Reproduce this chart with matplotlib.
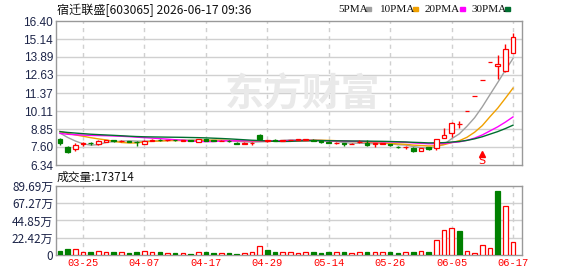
import numpy as np
import pandas as pd
import matplotlib
matplotlib.use('Agg')
import matplotlib.pyplot as plt
from matplotlib.patches import Rectangle

plt.rcParams['font.family'] = ['Noto Sans CJK SC', 'DejaVu Sans']

title = '宿迁联盛[603065] 2026-06-17 09:36'
vol_text = '成交量:173714'

# closes before the visible window, only used to feed the moving averages
earlier_close = [8.95, 9.05, 9.10, 9.00, 8.90, 8.85, 8.80, 8.90, 8.85, 8.70,
                 8.55, 8.40, 8.30, 8.35, 8.25, 8.30, 8.40, 8.45, 8.50, 8.65,
                 8.70, 8.75, 8.80, 8.85, 8.90, 8.80, 9.00, 8.85, 8.30]

open_ = [8.16, 7.62, 7.44, 7.80, 7.90, 7.78, 7.98, 8.10, 7.99, 8.03,
         7.97, 7.80, 8.04, 8.12, 8.07, 8.10, 8.05, 8.08, 7.97, 8.14,
         8.06, 8.02, 8.04, 7.90, 7.82, 7.87, 8.43, 8.00, 8.12, 8.05,
         8.08, 8.10, 8.10, 8.12, 8.01, 7.97, 7.86, 7.86, 7.80, 7.94,
         7.90, 7.84, 7.84, 7.81, 7.62, 7.58, 7.51, 7.35, 7.60, 7.51,
         8.21, 8.58, 9.19, 10.13, 11.14, 12.25, 13.55, 13.26, 12.91, 14.14]
high = [8.23, 7.69, 7.85, 7.92, 7.93, 8.08, 8.12, 8.12, 8.06, 8.05,
        7.99, 8.08, 8.14, 8.14, 8.12, 8.11, 8.09, 8.09, 8.16, 8.18,
        8.09, 8.07, 8.06, 7.93, 7.93, 7.93, 8.51, 8.12, 8.14, 8.10,
        8.12, 8.14, 8.18, 8.13, 8.05, 7.99, 7.94, 7.88, 7.85, 8.09,
        8.09, 7.86, 7.90, 7.83, 7.66, 7.66, 7.58, 7.55, 7.63, 8.14,
        8.95, 9.32, 9.43, 10.13, 11.14, 12.25, 13.55, 14.02, 14.79, 15.58]
low = [7.76, 7.16, 7.32, 7.70, 7.72, 7.74, 7.95, 7.96, 7.97, 7.93,
       7.67, 7.78, 8.02, 8.05, 8.05, 8.03, 8.03, 8.03, 7.95, 8.00,
       8.00, 8.00, 7.98, 7.82, 7.80, 7.76, 8.09, 7.98, 8.03, 8.03,
       8.06, 8.09, 8.08, 8.02, 7.90, 7.85, 7.84, 7.70, 7.78, 7.85,
       7.68, 7.62, 7.82, 7.70, 7.56, 7.48, 7.25, 7.30, 7.42, 7.39,
       8.20, 8.32, 8.90, 10.13, 11.14, 12.25, 13.55, 12.38, 12.84, 14.14]
close = [7.90, 7.27, 7.76, 7.87, 7.85, 8.04, 8.08, 8.02, 8.04, 7.96,
         7.94, 8.04, 8.12, 8.08, 8.10, 8.06, 8.08, 8.05, 8.14, 8.03,
         8.02, 8.05, 8.00, 7.84, 7.89, 7.91, 8.14, 8.09, 8.05, 8.09,
         8.11, 8.13, 8.15, 8.05, 7.93, 7.88, 7.90, 7.78, 7.83, 7.96,
         7.72, 7.85, 7.88, 7.73, 7.60, 7.61, 7.34, 7.51, 7.48, 8.14,
         8.44, 9.30, 9.21, 10.13, 11.14, 12.25, 13.55, 13.42, 14.42, 15.26]
# volume in 万
volume = [5.2, 7.8, 7.4, 3.5, 3.9, 4.8, 3.5, 3.9, 3.5, 2.6,
          3.9, 4.8, 3.5, 3.9, 2.6, 2.6, 2.6, 1.3, 3.9, 3.9,
          2.6, 2.6, 2.6, 1.3, 2.6, 3.9, 11.7, 6.5, 3.9, 3.9,
          3.5, 2.6, 3.9, 4.3, 3.0, 4.3, 3.9, 4.3, 3.0, 3.9,
          4.3, 3.9, 3.9, 4.3, 3.0, 3.9, 4.3, 5.6, 4.3, 19.5,
          32.5, 35.1, 31.2, 5.2, 2.6, 13.0, 9.1, 83.2, 63.7, 17.37]

tick_idx = [3, 11, 19, 27, 35, 43, 51, 59]
tick_dates = ['03-25', '04-07', '04-17', '04-29', '05-14', '05-26', '06-05', '06-17']
price_ticks = [6.34, 7.60, 8.85, 10.11, 11.37, 12.63, 13.89, 15.14, 16.40]
vol_ticks = [0, 22.42, 44.85, 67.27, 89.69]
ma_periods = [5, 10, 20, 30]
ma_colors = ['#a0a0a0', '#f0a000', '#ff00ff', '#006f30']
signal_idx = 55

RED = '#ff0000'
GREEN = '#008000'
GRID = '#d0d0d0'
LABEL = '#1c2448'

W, H = 578, 276
fig = plt.figure(figsize=(W / 100, H / 100), dpi=100)
ax = fig.add_axes([56 / W, 1 - 165 / H, 466 / W, 144 / H])
axv = fig.add_axes([56 / W, 1 - 255 / H, 466 / W, 69 / H])

n = len(close)
x = np.arange(n)
o = np.array(open_); c = np.array(close)
prev = np.array([earlier_close[-1]] + close[:-1])

# moving averages
allc = pd.Series(earlier_close + close)
for p, col in zip(ma_periods, ma_colors):
    ma = allc.rolling(p).mean().values[-n:]
    ax.plot(x, ma, color=col, lw=1, zorder=2)

# candles
for i in range(n):
    if c[i] > o[i]:
        up = True
    elif c[i] < o[i]:
        up = False
    else:
        up = c[i] >= prev[i]
    col = RED if up else GREEN
    ax.vlines(i, low[i], high[i], color=col, lw=1, zorder=3)
    hgt = max(abs(c[i] - o[i]), 0.01)
    ax.bar(i, hgt, bottom=min(o[i], c[i]), width=0.6,
           facecolor='white' if up else GREEN, edgecolor=col, lw=0.9, zorder=4)

# signal marker
ax.plot(signal_idx, 7.12, marker='^', color=RED, ms=4, zorder=5)
ax.text(signal_idx, 6.62, 'S', color=RED, fontsize=8, ha='center', va='center',
        family='DejaVu Sans', zorder=5)

# volume bars
for i in range(n):
    up = c[i] >= prev[i]
    col = RED if up else GREEN
    axv.bar(i, volume[i], width=0.6, facecolor='white' if up else GREEN,
            edgecolor=col, lw=0.9, zorder=3)

# watermark
fig.text(302 / W, 1 - 95 / H, '东方财富', fontsize=28, color='#e9e9e9',
         fontweight='bold', ha='center', va='center', style='italic', zorder=0)

for a in (ax, axv):
    a.set_xlim(-0.52, 60.17)
    a.set_xticks(tick_idx)
    for t in tick_idx:
        a.axvline(t, color=GRID, lw=1, ls=(0, (3, 3)), zorder=1)
    for s in a.spines.values():
        s.set_color('#999999')
        s.set_linewidth(1)
    a.tick_params(length=0, pad=2)
    a.set_facecolor('none')

ax.set_ylim(price_ticks[0], price_ticks[-1])
ax.set_yticks(price_ticks)
ax.set_yticklabels(['%.2f' % v for v in price_ticks], fontsize=8.5,
                   color=LABEL, family='Liberation Sans')
for v in price_ticks[1:-1]:
    ax.axhline(v, color=GRID, lw=1, zorder=1)
ax.set_xticklabels([])

axv.set_ylim(vol_ticks[0], vol_ticks[-1])
axv.set_yticks(vol_ticks)
axv.set_yticklabels(['0'] + ['%.2f万' % v for v in vol_ticks[1:]], fontsize=8.5,
                    color=LABEL)
for v in vol_ticks[1:-1]:
    axv.axhline(v, color=GRID, lw=1, zorder=1)
axv.set_xticklabels(tick_dates, fontsize=7.5, color=RED, family='Liberation Mono')

# header text and legend
fig.text(57 / W, 1 - 10 / H, title, fontsize=8.7, va='center', color='#111111')
legend_x = [338, 380, 425, 472]
square_x = [366, 413, 460, 505]
for lx, sx, p, col in zip(legend_x, square_x, ma_periods, ma_colors):
    fig.text(lx / W, 1 - 10 / H, '%dPMA' % p, fontsize=8, va='center',
             family='Liberation Serif', color='#111111')
    fig.patches.append(Rectangle((sx / W, 1 - 10.5 / H), 5 / W, 3 / H,
                                 color=col, transform=fig.transFigure, figure=fig))
fig.text(57 / W, 1 - 177 / H, vol_text, fontsize=8.5, va='center', color='#111111')

fig.savefig('out.png', dpi=100)
